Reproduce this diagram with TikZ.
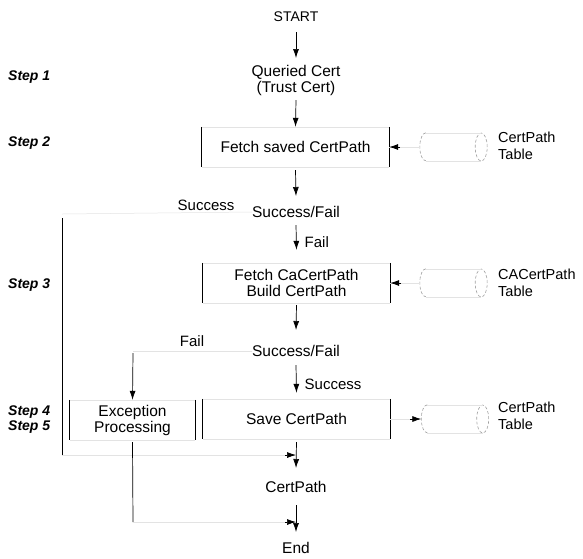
\documentclass[tikz,border=0pt]{standalone}
\usepackage{fontspec}
\setmainfont{Liberation Sans}
\usetikzlibrary{arrows.meta,calc}
\begin{document}
\begin{tikzpicture}[x=1pt,y=-1pt,
  txt/.style={font=\fontsize{15.5}{16}\selectfont, align=center, inner sep=0pt},
  boxnode/.style={txt, minimum width=187pt, minimum height=40pt},
  steplbl/.style={font=\fontsize{14}{15}\selectfont\bfseries\itshape, anchor=west, inner sep=0pt},
  lbl/.style={font=\fontsize{15}{16}\selectfont, inner sep=0pt},
  tlbl/.style={font=\fontsize{14.5}{16.5}\selectfont, align=left, anchor=west, inner sep=0pt},
  tabnode/.style={minimum width=55pt, minimum height=28pt, inner sep=0pt},
  arr/.style={-{Latex[length=9pt,width=6pt]}, line width=0.7pt},
  side/.style={line width=0.7pt},
  faint/.style={gray!22, line width=0.5pt},
  tab/.style={gray!75, line width=0.6pt, densely dashed}
]
\useasboundingbox (0,0) rectangle (583,558);

% step labels
\node[steplbl] (s1) at (8,77) {Step 1};
\node[steplbl] (s2) at (8,143) {Step 2};
\node[steplbl] (s3) at (8,285) {Step 3};
\node[steplbl] (s4) at (8,412) {Step 4};
\node[steplbl] (s5) at (8,427) {Step 5};

% main flow nodes
\node[txt, font=\fontsize{14}{15}\selectfont] (start) at (296,17) {START};
\node[txt] (queried) at (296,80) {Queried Cert\\(Trust Cert)};
\node[boxnode] (fetch) at (295.5,147) {Fetch saved CertPath};
\node[txt] (sf1) at (296,212) {Success/Fail};
\node[boxnode] (fetchca) at (296.5,283) {Fetch CaCertPath\\Build CertPath};
\node[txt] (sf2) at (296,351) {Success/Fail};
\node[boxnode] (save) at (296.5,419) {Save CertPath};
\node[txt, minimum width=125pt, minimum height=40pt] (exc) at (132.5,420) {Exception\\Processing};
\node[txt] (cert) at (296,487) {CertPath};
\node[txt] (end) at (296,548) {End};

% tables
\node[tabnode] (t1) at (453.5,147) {};
\node[tabnode] (t2) at (453.5,283) {};
\node[tabnode] (t3) at (455,419) {};
\node[tlbl] (t1l) at (498,146) {CertPath\\Table};
\node[tlbl] (t2l) at (498,283) {CACertPath\\Table};
\node[tlbl] (t3l) at (498,416) {CertPath\\Table};
\foreach \t in {t1,t2,t3}{
  \draw[tab] (\t.north west) arc[start angle=90, end angle=270, x radius=6pt, y radius=14pt];
  \draw[tab] (\t.east) ellipse[x radius=6pt, y radius=14pt];
  \draw[faint] (\t.north west) -- (\t.north east);
  \draw[faint] (\t.south west) -- (\t.south east);
}

% box sides
\foreach \b in {fetch,fetchca,save,exc}{
  \draw[side] (\b.north west) -- (\b.south west);
  \draw[side] (\b.north east) -- (\b.south east);
  \draw[faint] (\b.north west) -- (\b.north east);
  \draw[faint] (\b.south west) -- (\b.south east);
}

% main arrows
\draw[arr] ($(start)+(0,15)$) -- ($(queried)+(0,-22)$);
\draw[arr] ($(queried)+(0,20)$) -- (fetch.north);
\draw[arr] ($(fetch.south)+(0,3)$) -- ($(sf1)+(0,-16)$);
\draw[arr] ($(sf1)+(0,13)$) -- ($(fetchca.north)+(0,-13)$)
  node[lbl, anchor=west, pos=0.68, xshift=8pt] {Fail};
\draw[arr] ($(fetchca.south)+(0,2)$) -- ($(sf2)+(0,-21)$);
\draw[arr] ($(sf2)+(0,14)$) -- ($(save.north)+(0,-6)$)
  node[lbl, anchor=west, pos=0.7, xshift=8pt] {Success};
\draw[arr] ($(save.south)+(0,3)$) -- ($(cert)+(0,-19)$);
\draw[arr] ($(cert)+(0,18)$) -- ($(end)+(0,-16)$);

% table connectors
\draw[faint] ($(t1.west)+(-6,0)$) -- (fetch.east);
\draw[arr] ($(fetch.east)+(11,0)$) -- (fetch.east);
\draw[faint] ($(t2.west)+(-6,0)$) -- (fetchca.east);
\draw[arr] ($(fetchca.east)+(11,0)$) -- (fetchca.east);
\draw[faint] (save.east) -- ($(t3.west)+(-16,0)$);
\draw[arr] ($(t3.west)+(-17,0)$) -- ($(t3.west)+(-6,0)$);

% success branch of first decision
\coordinate (c1) at (62,214);
\coordinate (c2) at (62,455);
\coordinate (j1) at (296,455);
\node[lbl] (succ) at (206,205) {Success};
\draw[faint] (sf1.west) -- (c1);
\draw[side] ($(c1)+(0,4)$) -- (c2);
\draw[faint] (c2) -- (j1);
\draw[arr] ($(j1)+(-11,0)$) -- (j1);

% fail branch of second decision
\coordinate (f1) at (133,351);
\node[lbl] (failL) at (192,341) {Fail};
\draw[faint] (sf2.west) -- (f1);
\draw[arr] ($(f1)+(0,2)$) -- (exc.north);

% exception output
\coordinate (e1) at (133,522);
\coordinate (j2) at (296,522);
\draw[side] ($(exc.south)+(0,2)$) -- (e1);
\draw[faint] (e1) -- (j2);
\draw[arr] ($(j2)+(-11,0)$) -- (j2);
\end{tikzpicture}
\end{document}
